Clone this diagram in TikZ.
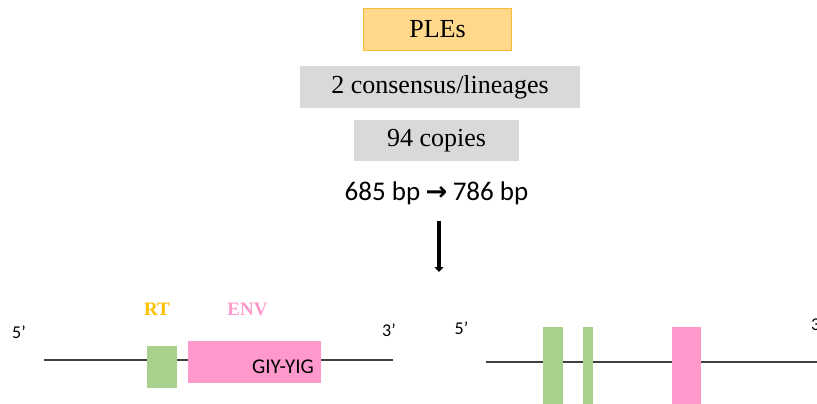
\documentclass[tikz,border=0pt]{standalone}
\usepackage{fontspec}
\setmainfont{Liberation Serif}
\newfontfamily\calfont{Carlito}
\newfontfamily\dvfont{DejaVu Sans Bold}
\usetikzlibrary{arrows.meta}
\definecolor{plefill}{RGB}{255,216,140}
\definecolor{pleborder}{RGB}{245,188,55}
\definecolor{boxgray}{RGB}{217,217,217}
\definecolor{genegreen}{RGB}{169,209,142}
\definecolor{genepink}{RGB}{255,153,204}
\definecolor{rtorange}{RGB}{255,192,0}
\definecolor{envpink}{RGB}{255,153,204}
\definecolor{linegray}{RGB}{64,64,64}
\tikzset{
  serifbig/.style={font=\fontsize{26}{30}\selectfont, inner sep=0pt},
  plebox/.style={serifbig, fill=plefill, draw=pleborder, line width=1.2pt},
  graybox/.style={serifbig, fill=boxgray, draw=none},
  genebox/.style={draw=none, inner sep=0pt, rectangle},
  greenbox/.style={genebox, fill=genegreen},
  pinkbox/.style={genebox, fill=genepink},
  geneline/.style={draw=linegray, line width=1.5pt},
  endlabel/.style={font=\calfont\fontsize{18}{20}\selectfont, inner sep=0pt},
  domlabel/.style={font=\bfseries\fontsize{19}{20}\selectfont, inner sep=0pt},
}
\begin{document}
\begin{tikzpicture}[x=1pt,y=-1pt]
\useasboundingbox (0,0) rectangle (817,404);
\clip (0,0) rectangle (817,404);

% top boxes
\node[plebox, minimum width=148pt, minimum height=42pt] (ples) at (437.5,29.5) {PLEs};
\node[graybox, minimum width=280pt, minimum height=42pt] (cons) at (440,87) {2 consensus/lineages};
\node[graybox, minimum width=165pt, minimum height=41pt] (copies) at (436.5,140.5) {94 copies};
\node[inner sep=0pt, font=\calfont\fontsize{27}{30}\selectfont] (bp) at (436.5,193) {685 bp\hspace{0.2em}{\dvfont\fontsize{26}{26}\selectfont →}\hspace{0.2em}786 bp};

% arrow
\coordinate (atop) at (439,221);
\coordinate (abot) at (439,272);
\draw[line width=3.5pt, -{Triangle[width=9pt,length=5pt]}] (atop) -- (abot);

% left gene
\coordinate (l5) at (44,360);
\coordinate (l3) at (393,360);
\draw[geneline] (l5) -- (l3);
\node[greenbox, minimum width=30pt, minimum height=42pt] (rtbox) at (162,367) {};
\node[pinkbox, minimum width=133pt, minimum height=42pt] (envbox) at (254.5,362) {};
\node[inner sep=0pt, font=\calfont\fontsize{21}{24}\selectfont] (giy) at (283,367) {GIY-YIG};
\node[domlabel, text=rtorange] (rt) at (157,309) {RT};
\node[domlabel, text=envpink] (env) at (247.5,309) {ENV};
\node[endlabel] (five1) at (19,332) {5’};
\node[endlabel] (three1) at (389,330) {3’};

% right gene
\coordinate (r5) at (486,362);
\coordinate (r3) at (830,362);
\draw[geneline] (r5) -- (r3);
\node[greenbox, minimum width=20pt, minimum height=93pt] (g1) at (553,373.5) {};
\node[greenbox, minimum width=10pt, minimum height=93pt] (g2) at (588,373.5) {};
\node[pinkbox, minimum width=29pt, minimum height=93pt] (p2) at (686.5,373.5) {};
\node[endlabel] (five2) at (461.5,328) {5’};
\node[endlabel, anchor=west] (three2) at (811,324) {3’};
\end{tikzpicture}
\end{document}
